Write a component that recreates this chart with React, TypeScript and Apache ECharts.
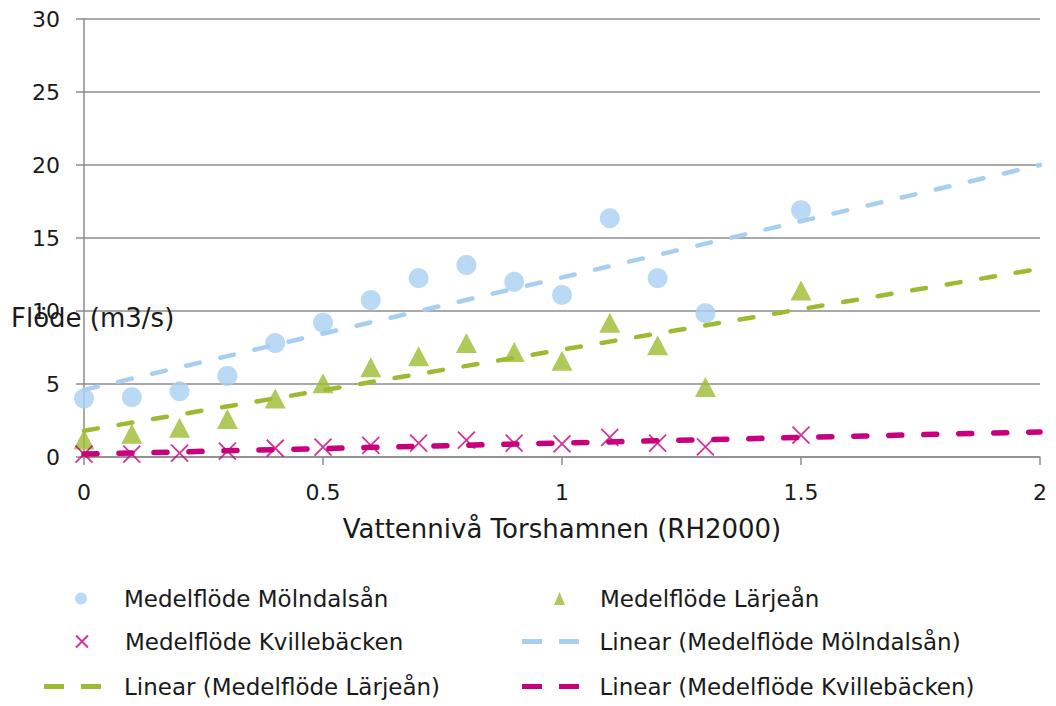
import React, { useEffect, useRef } from "react";
import * as echarts from "echarts";

const xValues = [0, 0.1, 0.2, 0.3, 0.4, 0.5, 0.6, 0.7, 0.8, 0.9, 1.0, 1.1, 1.2, 1.3, 1.5];
const molndalsan = [4.0, 4.1, 4.5, 5.55, 7.8, 9.2, 10.75, 12.25, 13.15, 12.0, 11.1, 16.35, 12.25, 9.85, 16.9];
const larjean = [1.2, 1.6, 2.0, 2.6, 4.0, 5.05, 6.15, 6.9, 7.8, 7.2, 6.6, 9.2, 7.65, 4.8, 11.4];
const kvillebacken = [0.2, 0.2, 0.27, 0.4, 0.6, 0.68, 0.8, 0.95, 1.15, 0.95, 0.9, 1.35, 0.95, 0.7, 1.5];

const trendX = [0, 2];
const trendMolndalsan = [4.6, 20.0];
const trendLarjean = [1.8, 12.9];
const trendKvillebacken = [0.2, 1.72];

const yTicks = [0, 5, 10, 15, 20, 25, 30];
const xTickLabels = ["0", "0.5", "1", "1.5", "2"];

const names = {
  m: "Medelflöde Mölndalsån",
  l: "Medelflöde Lärjeån",
  k: "Medelflöde Kvillebäcken",
  tm: "Linear (Medelflöde Mölndalsån)",
  tl: "Linear (Medelflöde Lärjeån)",
  tk: "Linear (Medelflöde Kvillebäcken)",
};

const BLUE = "#A7CFF1";
const GREEN = "#9CBB32";
const MAGENTA = "#C8007D";
const FONT = "'DejaVu Sans', sans-serif";

const xPath = "path://M0,0L10,10M10,0L0,10";
const dashIcon = "path://M0,0h20v5h-20zM37,0h20v5h-20z";

export default function App() {
  const ref = useRef<HTMLDivElement>(null);
  useEffect(() => {
    const chart = echarts.init(ref.current!, null, { renderer: "svg" });
    const pair = (xs: number[], ys: number[]) => xs.map((x, i) => [x, ys[i]]);
    const legendText = { fontFamily: FONT, fontSize: 23, color: "#1a1a1a" };
    const mkLegend = (
      name: string,
      left: number,
      top: number,
      w: number,
      h: number,
      pad: number,
      icon?: string
    ) => ({
      data: [icon ? { name, icon } : name],
      left,
      top,
      itemWidth: w,
      itemHeight: h,
      padding: 0,
      selectedMode: false,
      textStyle: { ...legendText, padding: [0, 0, 0, pad] },
    });
    chart.setOption({
      animation: false,
      textStyle: { fontFamily: FONT },
      grid: { left: 84, right: 16, top: 19, bottom: 249, containLabel: false },
      xAxis: {
        type: "value",
        min: 0,
        max: 2,
        interval: 0.5,
        name: "Vattennivå Torshamnen (RH2000)",
        nameLocation: "middle",
        nameGap: 59,
        nameTextStyle: { fontFamily: FONT, fontSize: 26, color: "#1a1a1a" },
        axisLine: { lineStyle: { color: "#8c8c8c", width: 1.5 } },
        axisTick: { show: true, length: 8, lineStyle: { color: "#8c8c8c", width: 1.5 } },
        axisLabel: {
          fontFamily: FONT,
          fontSize: 22,
          color: "#1a1a1a",
          margin: 24,
          formatter: (v: number) => xTickLabels[Math.round(v / 0.5)] ?? String(v),
        },
        splitLine: { show: false },
      },
      yAxis: {
        type: "value",
        min: yTicks[0],
        max: yTicks[yTicks.length - 1],
        interval: 5,
        axisLine: { show: true, lineStyle: { color: "#8c8c8c", width: 1.5 } },
        axisTick: { show: true, length: 8, lineStyle: { color: "#8c8c8c", width: 1.5 } },
        axisLabel: { fontFamily: FONT, fontSize: 22, color: "#1a1a1a", margin: 24 },
        splitLine: { show: true, lineStyle: { color: "#8c8c8c", width: 1.5 } },
      },
      legend: [
        mkLegend(names.m, 75, 587, 12, 12, 32),
        mkLegend(names.l, 554, 587, 11, 13, 30),
        mkLegend(names.k, 75, 630, 12, 12, 32),
        mkLegend(names.tm, 522, 630, 58, 5, 15, dashIcon),
        mkLegend(names.tl, 44, 675, 57, 5, 18, dashIcon),
        mkLegend(names.tk, 522, 675, 58, 5, 15, dashIcon),
      ],
      graphic: [
        {
          type: "text",
          left: 11,
          top: 305,
          z: 100,
          style: { text: "Flöde (m3/s)", fontFamily: FONT, fontSize: 26, fill: "#1a1a1a" },
        },
      ],
      series: [
        {
          name: names.m,
          type: "scatter",
          symbol: "circle",
          symbolSize: 20,
          itemStyle: { color: BLUE },
          data: pair(xValues, molndalsan),
        },
        {
          name: names.l,
          type: "scatter",
          symbol: "triangle",
          symbolSize: [21, 20],
          itemStyle: { color: GREEN },
          data: pair(xValues, larjean),
        },
        {
          name: names.k,
          type: "scatter",
          symbol: xPath,
          symbolSize: 17,
          itemStyle: { color: "rgba(0,0,0,0)", borderColor: MAGENTA, borderWidth: 1.8 },
          data: pair(xValues, kvillebacken),
        },
        {
          name: names.tm,
          type: "line",
          symbol: "none",
          lineStyle: { color: BLUE, width: 4.5, type: [14, 21], cap: "round" },
          itemStyle: { color: BLUE },
          data: pair(trendX, trendMolndalsan),
        },
        {
          name: names.tl,
          type: "line",
          symbol: "none",
          lineStyle: { color: GREEN, width: 4.5, type: [14, 21], cap: "round" },
          itemStyle: { color: GREEN },
          data: pair(trendX, trendLarjean),
        },
        {
          name: names.tk,
          type: "line",
          symbol: "none",
          lineStyle: { color: MAGENTA, width: 5.5, type: [13, 22], cap: "round" },
          itemStyle: { color: MAGENTA },
          data: pair(trendX, trendKvillebacken),
        },
      ],
    });
    return () => chart.dispose();
  }, []);
  return (
    <div
      ref={ref}
      style={{ position: "fixed", left: 0, top: 0, width: 1056, height: 706, background: "#fff" }}
    />
  );
}
